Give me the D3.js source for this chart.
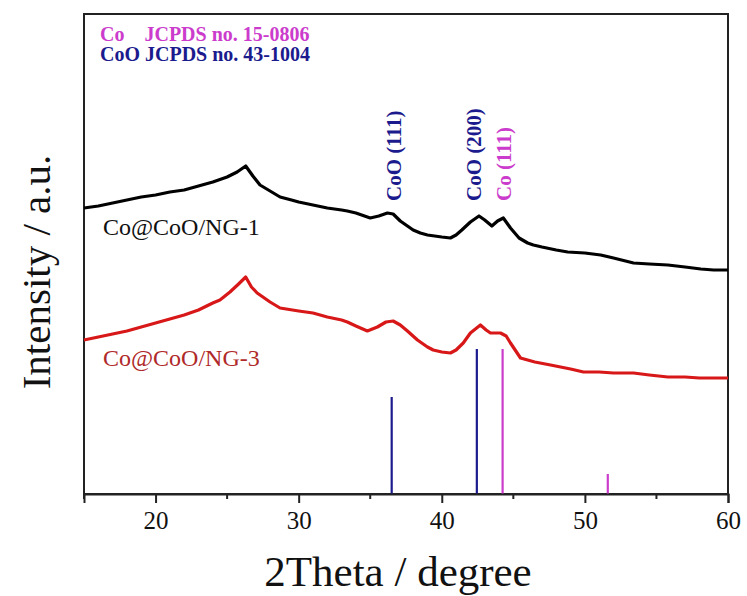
<!DOCTYPE html>
<html>
<head>
<meta charset="utf-8">
<script src="https://cdn.jsdelivr.net/npm/d3@7/dist/d3.min.js"></script>
<style>
  html, body { margin: 0; padding: 0; background: #fff; }
  svg { display: block; font-family: "Liberation Serif", "Times New Roman", serif; }
</style>
</head>
<body>
<svg id="chart" width="747" height="596"></svg>
<script>
// XRD patterns (2θ in degrees, intensity in arbitrary units, curves offset for clarity)
const ng1Theta = [15,16,17,18,19,20,21,22,23,24,25,25.7,26.3,26.8,27.3,28,28.7,29.5,30,31,32,33,33.4,34,35,35.6,36.2,36.6,37.1,37.6,38,38.5,39,40,40.6,41,41.4,42,42.6,43,43.5,43.9,44.3,44.8,45.4,46,46.4,47,48,48.8,50,51.1,52,53.4,54.5,55.8,57,58.1,59,60];
const ng1Int   = [286,288,291,294,297,299,302,304,308,312,317,322,328,318,309,303,297,294,292,289,286,284,283,281,276,278,281,280,273,268,264,261,259,257,256,259,264,272,278,274,268,273,276,266,256,251,249,247,244,242,241,239,236,231,230,229,227,225,224,224];

const ng3Theta = [15,16,17,18,19,20,21,22,23,24,24.5,25.2,25.8,26.3,26.7,27.1,28,28.7,30,31,32,33,33.4,34,34.8,35.5,36.1,36.6,37.1,37.6,38.3,39,39.4,40,40.6,41,41.5,42,42.7,43.1,43.4,44.1,44.5,44.8,45.5,46.5,47.6,49,49.9,51,52,53.4,54.5,55.8,57,58,60];
const ng3Int   = [154,157,160,163,167,171,175,179,184,191,194,202,210,217,207,201,192,186,183,181,177,174,172,168,163,167,172,173,169,163,154,147,144,142,141,144,151,161,169,164,161,161,158,151,136,132,129,125,122,122,121,121,119,117,117,116,116];

// Reference patterns (stick positions and relative heights)
const cooTheta = [36.5, 42.45];
const cooInt   = [97, 145];
const coTheta  = [44.25, 51.6];
const coInt    = [145, 20];

// Peak annotations
const peakNames = ["CoO (111)", "CoO (200)", "Co (111)"];
const peakTheta = [36.6, 42.2, 44.3];

const xTicks = [20, 30, 40, 50, 60];
const xMinor = [15, 25, 35, 45, 55];

const NAVY = "#1b1b8e";
const MAGENTA = "#cc3ccc";

const svg = d3.select("#chart");
const m = { left: 84, right: 728, top: 14, bottom: 494 };

const x = d3.scaleLinear().domain([15, 60]).range([m.left, m.right]);
const y = d3.scaleLinear().domain([0, 480]).range([m.bottom, m.top]);

// frame
svg.append("rect")
  .attr("x", m.left).attr("y", m.top)
  .attr("width", m.right - m.left).attr("height", m.bottom - m.top)
  .attr("fill", "none").attr("stroke", "#222").attr("stroke-width", 2);

// reference sticks
const sticks = cooTheta.map((t, i) => ({ t, v: cooInt[i], c: NAVY }))
  .concat(coTheta.map((t, i) => ({ t, v: coInt[i], c: MAGENTA })));
svg.append("g").selectAll("line").data(sticks).join("line")
  .attr("x1", d => x(d.t)).attr("x2", d => x(d.t))
  .attr("y1", y(0)).attr("y2", d => y(d.v))
  .attr("stroke", d => d.c).attr("stroke-width", 2.2);

// patterns
const line = d3.line().x(d => x(d[0])).y(d => y(d[1])).curve(d3.curveLinear);
svg.append("path")
  .datum(ng1Theta.map((t, i) => [t, ng1Int[i]]))
  .attr("d", line).attr("fill", "none")
  .attr("stroke", "#000").attr("stroke-width", 3.2).attr("stroke-linejoin", "round");
svg.append("path")
  .datum(ng3Theta.map((t, i) => [t, ng3Int[i]]))
  .attr("d", line).attr("fill", "none")
  .attr("stroke", "#d81818").attr("stroke-width", 3.2).attr("stroke-linejoin", "round");

// x axis
const xAxis = svg.append("g").attr("transform", `translate(0,${m.bottom})`)
  .call(d3.axisBottom(x).tickValues(xTicks).tickSize(9).tickPadding(8).tickFormat(d3.format("d")));
xAxis.select(".domain").attr("stroke", "#222").attr("stroke-width", 2);
xAxis.selectAll(".tick line").attr("stroke", "#222").attr("stroke-width", 2);
xAxis.selectAll(".tick text").attr("font-size", 25).attr("fill", "#111")
  .attr("font-family", "Liberation Serif, Times New Roman, serif");
svg.append("g").selectAll("line").data(xMinor).join("line")
  .attr("x1", d => x(d)).attr("x2", d => x(d))
  .attr("y1", m.bottom).attr("y2", m.bottom + 5)
  .attr("stroke", "#222").attr("stroke-width", 2);

// axis titles
svg.append("text").attr("x", (m.left + m.right) / 2 - 8).attr("y", 586)
  .attr("text-anchor", "middle").attr("font-size", 43).attr("fill", "#111")
  .text("2Theta / degree");
svg.append("text")
  .attr("transform", `translate(50,${(m.top + m.bottom) / 2 + 18}) rotate(-90)`)
  .attr("text-anchor", "middle").attr("font-size", 41).attr("fill", "#111")
  .text("Intensity / a.u.");

// reference legend
svg.append("text").attr("x", 100).attr("y", 41)
  .attr("font-size", 20).attr("font-weight", "bold").attr("fill", MAGENTA)
  .attr("xml:space", "preserve").text("Co    JCPDS no. 15-0806");
svg.append("text").attr("x", 100).attr("y", 61)
  .attr("font-size", 20).attr("font-weight", "bold").attr("fill", NAVY)
  .text("CoO JCPDS no. 43-1004");

// peak labels
const peakColors = [NAVY, NAVY, MAGENTA];
peakNames.forEach((name, i) => {
  svg.append("text")
    .attr("transform", `translate(${x(peakTheta[i]) + 8},201) rotate(-90)`)
    .attr("font-size", 21).attr("font-weight", "bold").attr("fill", peakColors[i])
    .text(name);
});

// sample labels
svg.append("text").attr("x", 103).attr("y", 235)
  .attr("font-size", 24).attr("fill", "#111").text("Co@CoO/NG-1");
svg.append("text").attr("x", 103).attr("y", 366)
  .attr("font-size", 24).attr("fill", "#b02a2a").text("Co@CoO/NG-3");
</script>
</body>
</html>
